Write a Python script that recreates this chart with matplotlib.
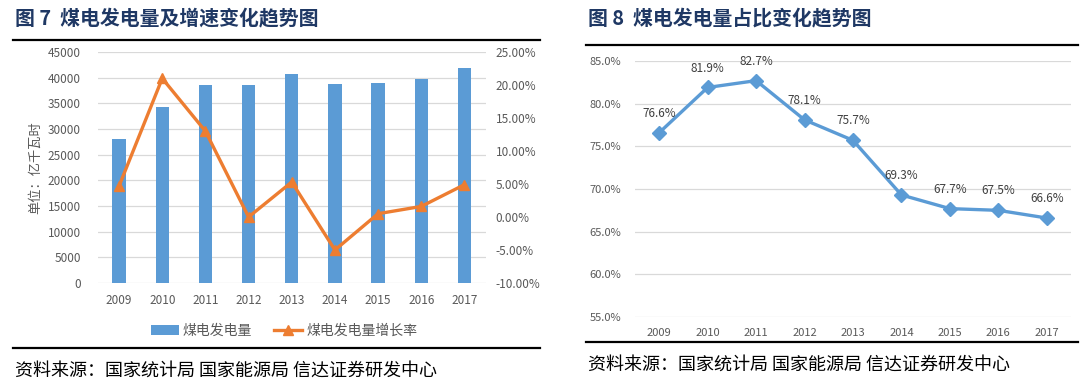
import numpy as np
import matplotlib
matplotlib.use('Agg')
import matplotlib.pyplot as plt
from matplotlib.lines import Line2D
from matplotlib.ticker import FuncFormatter

plt.rcParams['font.family'] = ['Noto Sans CJK SC', 'DejaVu Sans']
plt.rcParams['axes.unicode_minus'] = False

# data
years = ['2009', '2010', '2011', '2012', '2013', '2014', '2015', '2016', '2017']
coal_gen = [28100, 34200, 38650, 38650, 40750, 38800, 39000, 39700, 41900]
coal_growth = [4.7, 21.0, 13.0, 0.0, 5.3, -5.0, 0.5, 1.6, 4.9]
coal_share = [76.6, 81.9, 82.7, 78.1, 75.7, 69.3, 67.7, 67.5, 66.6]

W, H = 1091, 391
BLUE = '#5B9BD5'
ORANGE = '#ED7D31'
GRID = '#D9D9D9'
TICK = '#595959'
NAVY = '#1F3864'
SOURCE = '资料来源：国家统计局 国家能源局 信达证券研发中心'

fig = plt.figure(figsize=(W / 100, H / 100), dpi=100)


def px_axes(l, t, r, b):
    return fig.add_axes([l / W, 1 - b / H, (r - l) / W, (b - t) / H])


def rule(x0, x1, y, lw=1.6):
    fig.add_artist(Line2D([x0 / W, x1 / W], [1 - y / H, 1 - y / H],
                          color='black', lw=lw, transform=fig.transFigure))


def clean(ax, size):
    for s in ax.spines.values():
        s.set_visible(False)
    ax.tick_params(length=0, colors=TICK, labelsize=size)
    ax.grid(axis='y', color=GRID, lw=0.9)
    ax.set_axisbelow(True)


# ---- left chart ----
fig.text(15 / W, 1 - 18 / H, '图 7  煤电发电量及增速变化趋势图', fontsize=14.3,
         fontweight='bold', color=NAVY, va='center', ha='left')
rule(13, 540, 40)
rule(13, 540, 348)
fig.text(15 / W, 1 - 371 / H, SOURCE, fontsize=13, fontweight='light',
         color='black', va='center', ha='left')

x = np.arange(len(years))
ax1 = px_axes(97.5, 52, 486, 283)
clean(ax1, 8.5)
b = ax1.bar(x, coal_gen, width=0.31, color=BLUE, zorder=2)
ax1.set_ylim(0, 45000)
ax1.set_yticks(np.arange(0, 45001, 5000))
ax1.set_xlim(-0.5, 8.5)
ax1.set_xticks(x)
ax1.set_xticklabels(years)
ax1.tick_params(axis='x', pad=8)
ax1.tick_params(axis='y', pad=12)
ax1.set_ylabel('单位：亿千瓦时', color=TICK, fontsize=9.5, labelpad=4)

ax2 = ax1.twinx()
for s in ax2.spines.values():
    s.set_visible(False)
ax2.tick_params(length=0, colors=TICK, labelsize=8.5, pad=7)
l, = ax2.plot(x, coal_growth, color=ORANGE, lw=2.4, marker='^', markersize=7,
              zorder=3)
ax2.set_ylim(-10, 25)
ax2.set_yticks(np.arange(-10, 25.1, 5))
ax2.yaxis.set_major_formatter(FuncFormatter(lambda v, p: f'{v:.2f}%'))

fig.legend([b, l], ['煤电发电量', '煤电发电量增长率'], loc='center',
           bbox_to_anchor=(284 / W, 1 - 331 / H), ncol=2, frameon=False,
           fontsize=10, labelcolor=TICK, handlelength=2.0, columnspacing=1.6,
           handletextpad=0.3)

# ---- right chart ----
fig.text(588 / W, 1 - 18 / H, '图 8  煤电发电量占比变化趋势图', fontsize=14.3,
         fontweight='bold', color=NAVY, va='center', ha='left')
rule(586, 1078, 45)
rule(586, 1078, 342)
fig.text(588 / W, 1 - 365 / H, SOURCE, fontsize=13, fontweight='light',
         color='black', va='center', ha='left')

ax3 = px_axes(635, 61, 1071, 317)
clean(ax3, 8)
ax3.plot(x, coal_share, color=BLUE, lw=2.4, marker='D', markersize=7)
for xi, v in zip(x, coal_share):
    ax3.annotate(f'{v:.1f}%', (xi, v), xytext=(0, 14), textcoords='offset points',
                 ha='center', va='center', fontsize=8.5, color='#404040')
ax3.set_ylim(55, 85)
ax3.set_yticks(np.arange(55, 85.1, 5))
ax3.yaxis.set_major_formatter(FuncFormatter(lambda v, p: f'{v:.1f}%'))
ax3.set_xlim(-0.5, 8.5)
ax3.set_xticks(x)
ax3.set_xticklabels(years)
ax3.tick_params(axis='x', pad=8)
ax3.tick_params(axis='y', pad=10)

fig.savefig('out.png', dpi=100)
